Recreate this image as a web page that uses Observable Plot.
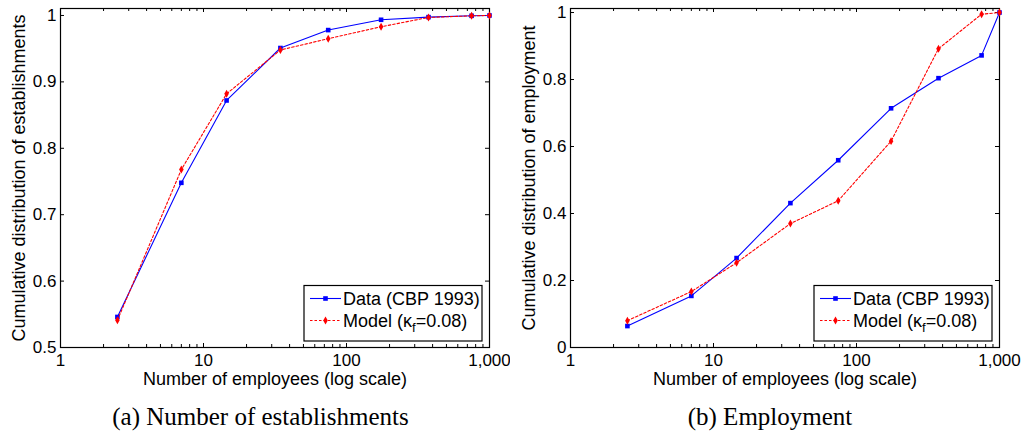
<!DOCTYPE html>
<html>
<head>
<meta charset="utf-8">
<script src="https://cdn.jsdelivr.net/npm/d3@7"></script>
<script src="https://cdn.jsdelivr.net/npm/@observablehq/plot@0.6"></script>
<style>
  html, body { margin: 0; padding: 0; background: white; }
  #wrap { position: relative; width: 1027px; height: 433px; overflow: hidden; background: white; }
  .panel { position: absolute; top: 0; }
  .caption { position: absolute; top: 404px; font-family: "Liberation Serif", "Times New Roman", serif; font-size: 25px; line-height: 25px; white-space: nowrap; transform: translateX(-50%); color: black; }
</style>
</head>
<body>
<div id="wrap"></div>
<script>
// ---- data ----
const sizeBins = [2.5, 7, 14.5, 34.5, 74.5, 174.5, 374.5, 749.5, 1000];
const estData  = [0.546, 0.748, 0.872, 0.951, 0.978, 0.9935, 0.9975, 0.9995, 1.0];
const estModel = [0.541, 0.768, 0.882, 0.948, 0.965, 0.983, 0.997, 0.9995, 1.0];
const empData  = [0.064, 0.154, 0.267, 0.431, 0.559, 0.714, 0.804, 0.872, 1.0];
const empModel = [0.080, 0.167, 0.253, 0.370, 0.438, 0.616, 0.892, 0.995, 1.0];

const xTicks = [1, 10, 100, 1000];
const xMinorTicks = [2,3,4,5,6,7,8,9,20,30,40,50,60,70,80,90,200,300,400,500,600,700,800,900];
const yTicksEst = [0.5, 0.6, 0.7, 0.8, 0.9, 1];
const yTicksEmp = [0, 0.2, 0.4, 0.6, 0.8, 1];

const xLabel = "Number of employees (log scale)";
const yLabelEst = "Cumulative distribution of establishments";
const yLabelEmp = "Cumulative distribution of employment";
const seriesNames = ["Data (CBP 1993)", "Model (κ", "f", "=0.08)"];
const captions = ["(a) Number of establishments", "(b) Employment"];

const BLUE = "#0000ff", RED = "#ff0000";
const W = 500, H = 395, ML = 60, MR = 11, MT = 8, MB = 48;
const PW = W - ML - MR, PH = H - MT - MB;
const TL = 4;

function panel(yDomain, yTicks, yLabel, dataY, modelY) {
  const dataRows = sizeBins.map((x, i) => ({x, y: dataY[i]}));
  const modelRows = sizeBins.map((x, i) => ({x, y: modelY[i]}));
  const svg = Plot.plot({
    width: W, height: H,
    marginLeft: ML, marginRight: MR, marginTop: MT, marginBottom: MB,
    style: {fontFamily: "'Liberation Sans', Arial, sans-serif", fontSize: "17px", color: "black", background: "white", overflow: "visible"},
    x: {type: "log", domain: [1, 1000]},
    y: {domain: yDomain},
    marks: [
      Plot.axisX({ticks: xTicks, tickFormat: d3.format(","), tickSize: 0, tickPadding: 6, label: null}),
      Plot.axisY({ticks: yTicks, tickFormat: d => String(d), tickSize: 0, tickPadding: 4, label: null}),
      // inward ticks (bottom/top)
      Plot.tickX(xTicks, {x: d => d, insetTop: PH - TL, stroke: "black"}),
      Plot.tickX(xTicks, {x: d => d, insetBottom: PH - TL, stroke: "black"}),
      Plot.tickX(xMinorTicks, {x: d => d, insetTop: PH - 3, stroke: "black"}),
      Plot.tickX(xMinorTicks, {x: d => d, insetBottom: PH - 3, stroke: "black"}),
      // inward ticks (left/right)
      Plot.tickY(yTicks, {y: d => d, insetRight: PW - TL, stroke: "black"}),
      Plot.tickY(yTicks, {y: d => d, insetLeft: PW - TL, stroke: "black"}),
      Plot.frame({stroke: "black", strokeWidth: 1.2}),
      Plot.text([xLabel], {frameAnchor: "bottom", dy: 31.5, textAnchor: "middle", lineAnchor: "middle", text: d => d, fontSize: 18}),
      Plot.text([yLabel], {frameAnchor: "left", dx: -41, rotate: -90, textAnchor: "middle", lineAnchor: "middle", text: d => d, fontSize: 18}),
      // series
      Plot.line(dataRows, {x: "x", y: "y", stroke: BLUE, strokeWidth: 1.1}),
      Plot.dot(dataRows, {x: "x", y: "y", symbol: "square", r: 2.6, fill: BLUE, stroke: "none"}),
      Plot.line(modelRows, {x: "x", y: "y", stroke: RED, strokeWidth: 1.1, strokeDasharray: "2.5,2"}),
      Plot.dot(modelRows, {x: "x", y: "y", symbol: "diamond", r: 2.4, fill: RED, stroke: "none"})
    ]
  });
  // legend box (inside lower right)
  const g = d3.select(svg).append("g")
    .attr("font-family", "'Liberation Sans', Arial, sans-serif")
    .attr("font-size", 18)
    .attr("text-anchor", "start");
  const bx = 304, by = 285.5, bw = 178, bh = 55.5;
  g.append("rect").attr("x", bx).attr("y", by).attr("width", bw).attr("height", bh)
    .attr("fill", "white").attr("stroke", "black").attr("stroke-width", 1.2);
  const r1 = 298.5, r2 = 320.5, lx0 = 310, lx1 = 341, mx = 325.5;
  g.append("line").attr("x1", lx0).attr("x2", lx1).attr("y1", r1).attr("y2", r1).attr("stroke", BLUE).attr("stroke-width", 1.1);
  g.append("path").attr("transform", `translate(${mx},${r1})`).attr("d", d3.symbol(d3.symbolSquare, Math.PI * 2.6 * 2.6)()).attr("fill", BLUE);
  g.append("line").attr("x1", lx0).attr("x2", lx1).attr("y1", r2).attr("y2", r2).attr("stroke", RED).attr("stroke-width", 1.1).attr("stroke-dasharray", "2.5,2");
  g.append("path").attr("transform", `translate(${mx},${r2})`).attr("d", d3.symbol(d3.symbolDiamond, Math.PI * 2.4 * 2.4)()).attr("fill", RED);
  g.append("text").attr("x", 343).attr("y", 305).text(seriesNames[0]);
  const t2 = g.append("text").attr("x", 343).attr("y", 326.5);
  t2.append("tspan").text(seriesNames[1]);
  t2.append("tspan").attr("dy", 5).attr("font-size", 13).text(seriesNames[2]);
  t2.append("tspan").attr("dy", -5).text(seriesNames[3]);
  return svg;
}

const wrap = document.getElementById("wrap");
const left = panel([0.5, 1.0105], yTicksEst, yLabelEst, estData, estModel);
left.classList.add("panel"); left.style.left = "0px";
const right = panel([0, 1.012], yTicksEmp, yLabelEmp, empData, empModel);
right.classList.add("panel"); right.style.left = "510px";
wrap.appendChild(left);
wrap.appendChild(right);

const capPos = [260.5, 770];
captions.forEach((c, i) => {
  const d = document.createElement("div");
  d.className = "caption";
  d.style.left = capPos[i] + "px";
  d.textContent = c;
  wrap.appendChild(d);
});
</script>
</body>
</html>
